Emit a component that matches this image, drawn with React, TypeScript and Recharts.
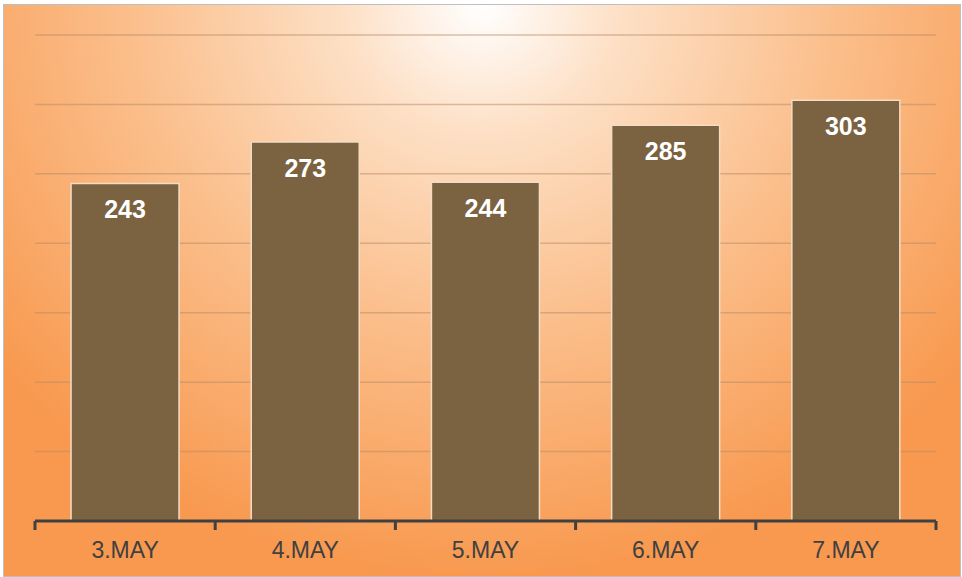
import React from 'react';
import { BarChart, Bar, XAxis, YAxis, CartesianGrid, LabelList } from 'recharts';

const days = ['3.MAY', '4.MAY', '5.MAY', '6.MAY', '7.MAY'];
const counts = [243, 273, 244, 285, 303];
const yTicks = [0, 50, 100, 150, 200, 250, 300, 350];

const WIDTH = 962;
const HEIGHT = 577;
const margin = { top: 35, right: 26, left: 35, bottom: 16 };

const data = days.map((day, i) => ({ day, count: counts[i] }));

// band width of one category, used to put the tick marks between categories
const band = (WIDTH - margin.left - margin.right) / days.length;

const DayTick = (props: any) => {
  const { x, y, payload, index } = props;
  const left = x - band / 2;
  // y sits a few px under the axis line, so the marks start above it
  const top = y - 8;
  return (
    <g>
      <line x1={left} y1={top} x2={left} y2={top + 9} stroke="#404040" strokeWidth={3} />
      {index === days.length - 1 && (
        <line x1={x + band / 2} y1={top} x2={x + band / 2} y2={top + 9} stroke="#404040" strokeWidth={3} />
      )}
      <text x={x} y={y + 29} textAnchor="middle" fill="#404040" fontSize={23} fontFamily="Liberation Sans, Arial, sans-serif">
        {payload.value}
      </text>
    </g>
  );
};

const App: React.FC = () => {
  return (
    <div style={{ position: 'fixed', left: 0, top: 0, width: WIDTH, height: HEIGHT, background: '#ffffff' }}>
      <div
        style={{
          position: 'absolute',
          left: 3,
          top: 4,
          width: WIDTH - 6,
          height: HEIGHT - 6,
          border: '1px solid #bfbfbf',
          background: 'radial-gradient(ellipse 65% 100% at 50% 0%, #ffffff 0%, #fde0c6 22%, #fbc08e 55%, #f8994f 100%)',
        }}
      />
      <div style={{ position: 'absolute', left: 0, top: 0 }}>
        <BarChart width={WIDTH} height={HEIGHT} data={data} margin={margin} barCategoryGap="20%">
          <CartesianGrid vertical={false} stroke="#b58a66" strokeOpacity={0.5} strokeWidth={1.5} />
          <YAxis hide domain={[0, 350]} ticks={yTicks} />
          <XAxis
            dataKey="day"
            height={40}
            axisLine={{ stroke: '#404040', strokeWidth: 3 }}
            tickLine={false}
            tick={<DayTick />}
            interval={0}
          />
          <Bar dataKey="count" fill="#7b6241" stroke="#f3dcc4" strokeWidth={1.5} isAnimationActive={false}>
            <LabelList
              dataKey="count"
              position="insideTop"
              offset={17}
              fill="#ffffff"
              fontSize={25}
              fontWeight="bold"
              fontFamily="Liberation Sans, Arial, sans-serif"
            />
          </Bar>
        </BarChart>
      </div>
    </div>
  );
};

export default App;
